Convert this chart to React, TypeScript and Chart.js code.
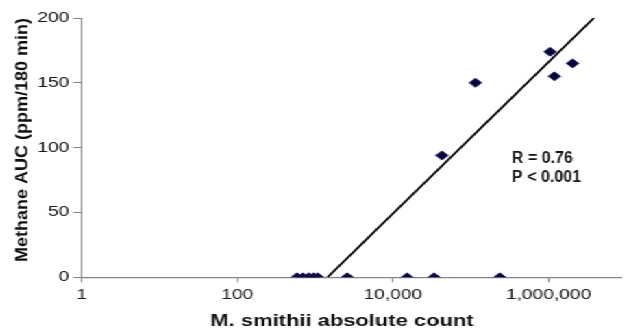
import React, { useEffect, useRef } from "react";
import { Chart, registerables } from "chart.js";

Chart.register(...registerables);

// The reference's horizontal axis text is wide: draw on a narrower canvas and stretch it.
const CANVAS_W = 459;
const CANVAS_H = 330;
const STRETCH = 629 / CANVAS_W;

// Data
const zeroCounts = [585, 697, 830, 960, 1080, 2590, 15200, 33800, 236600];
const zeroAUC = [0, 0, 0, 0, 0, 0, 0, 0, 0];
const posCounts = [42700, 115000, 1048000, 1190000, 2030000];
const posAUC = [94, 150, 174, 155, 165];
const trendCounts = [1445, 3820000];
const trendAUC = [0, 200];

const xTickValues = [1, 100, 10000, 1000000];
const xTickLabels = ["1", "100", "10,000", "1,000,000"];
const yTickValues = [0, 50, 100, 150, 200];

const X_MIN = 1;
const X_MAX = 8.65e6;
const Y_MIN = 0;
const Y_MAX = 200;

const xTitle = "M. smithii absolute count";
const yTitle = "Methane AUC (ppm/180 min)";
const annotationLines = ["R = 0.76", "P < 0.001"];
const annotationX = 339000;
const annotationY = [87.9, 73.7];

const FONT = '"Liberation Sans", Arial, sans-serif';
const AXIS_COLOR = "#858585";
const TEXT_COLOR = "#111111";

const textPlugin = {
  id: "textExtras",
  afterDraw(chart: any) {
    const { ctx, scales, chartArea } = chart;
    const xs = scales.x;
    const ys = scales.y;
    ctx.save();
    ctx.fillStyle = TEXT_COLOR;

    // R / P annotation (not stretched in the reference)
    ctx.font = `bold 16px ${FONT}`;
    ctx.textAlign = "left";
    ctx.textBaseline = "alphabetic";
    annotationLines.forEach((t, i) => {
      const px = xs.getPixelForValue(annotationX);
      const py = ys.getPixelForValue(annotationY[i]);
      ctx.save();
      ctx.translate(px, py);
      ctx.scale(1 / STRETCH, 1);
      ctx.fillText(t, 0, 0);
      ctx.restore();
    });

    // Y axis title (rotated, not stretched), top-aligned with the plot
    ctx.save();
    ctx.font = `bold 18px ${FONT}`;
    ctx.textAlign = "right";
    ctx.textBaseline = "middle";
    ctx.translate(ys.left + 16.8, chartArea.top);
    ctx.scale(1 / STRETCH, 1);
    ctx.rotate(-Math.PI / 2);
    ctx.fillText(yTitle, 0, 0);
    ctx.restore();

    // X axis title
    ctx.save();
    ctx.font = `bold 16px ${FONT}`;
    ctx.textAlign = "center";
    ctx.textBaseline = "middle";
    ctx.fillText(xTitle, (chartArea.left + chartArea.right) / 2 - 7, xs.bottom - 8.8);
    ctx.restore();

    ctx.restore();
  },
};

export default function App() {
  const canvasRef = useRef<HTMLCanvasElement | null>(null);

  useEffect(() => {
    if (!canvasRef.current) return;
    const points = [
      ...zeroCounts.map((x, i) => ({ x, y: zeroAUC[i] })),
      ...posCounts.map((x, i) => ({ x, y: posAUC[i] })),
    ];
    const trend = trendCounts.map((x, i) => ({ x, y: trendAUC[i] }));

    const chart = new Chart(canvasRef.current, {
      type: "scatter",
      data: {
        datasets: [
          {
            label: "Samples",
            data: points,
            pointStyle: "rectRot",
            pointRadius: 4.5,
            backgroundColor: "#06063a",
            borderColor: "#1c1c78",
            borderWidth: 1,
          } as any,
          {
            type: "line",
            label: "Trend",
            data: trend,
            borderColor: "#000000",
            borderWidth: 1.8,
            pointRadius: 0,
            fill: false,
            showLine: true,
          } as any,
        ],
      },
      options: {
        animation: false,
        responsive: false,
        devicePixelRatio: 1,
        layout: { padding: { top: 18, right: 0, bottom: 0, left: 0 } },
        plugins: {
          legend: { display: false },
          tooltip: { enabled: false },
        },
        scales: {
          x: {
            type: "logarithmic",
            min: X_MIN,
            max: X_MAX,
            bounds: "data",
            afterBuildTicks: (s: any) => {
              s.ticks = xTickValues.map((v) => ({ value: v }));
            },
            afterFit: (s: any) => {
              s.height = 52.7;
            },
            ticks: {
              autoSkip: false,
              maxRotation: 0,
              padding: 4.5,
              color: "#1a1a1a",
              font: { family: FONT, size: 14 },
              callback: (v: any) => {
                const idx = xTickValues.indexOf(Number(v));
                return idx >= 0 ? xTickLabels[idx] : "";
              },
            },
            grid: {
              display: true,
              drawOnChartArea: false,
              drawTicks: true,
              tickLength: 5,
              color: AXIS_COLOR,
            },
            border: { display: true, color: AXIS_COLOR, width: 1.2 },
            title: { display: false },
          } as any,
          y: {
            type: "linear",
            min: Y_MIN,
            max: Y_MAX,
            afterBuildTicks: (s: any) => {
              s.ticks = yTickValues.map((v) => ({ value: v }));
            },
            afterFit: (s: any) => {
              s.width = 59.6;
            },
            ticks: {
              padding: 3,
              color: "#1a1a1a",
              font: { family: FONT, size: 14 },
              callback: (v: any) => String(v),
            },
            grid: {
              display: true,
              drawOnChartArea: false,
              drawTicks: true,
              tickLength: 6,
              color: AXIS_COLOR,
            },
            border: { display: true, color: AXIS_COLOR, width: 1 },
            title: { display: false },
          } as any,
        },
      },
      plugins: [textPlugin],
    } as any);

    return () => {
      chart.destroy();
    };
  }, []);

  return (
    <div
      style={{
        position: "fixed",
        left: 0,
        top: 0,
        width: CANVAS_W,
        height: CANVAS_H,
        transform: `scaleX(${STRETCH})`,
        transformOrigin: "0 0",
        background: "#ffffff",
      }}
    >
      <canvas
        ref={canvasRef}
        width={CANVAS_W}
        height={CANVAS_H}
        style={{ display: "block", width: `${CANVAS_W}px`, height: `${CANVAS_H}px` }}
      />
    </div>
  );
}
